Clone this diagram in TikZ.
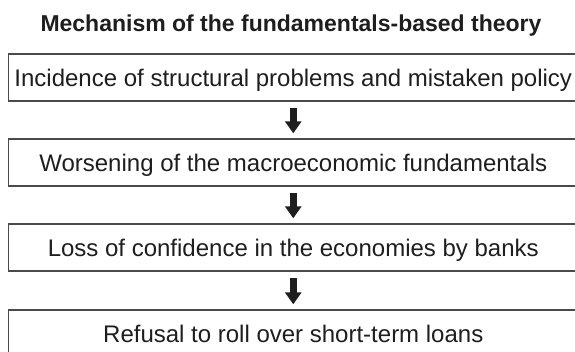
\documentclass[tikz,border=0pt]{standalone}
\usepackage{fontspec}
\setmainfont{Liberation Sans}
\usetikzlibrary{arrows.meta}
\definecolor{boxline}{HTML}{4A4A4A}
\definecolor{txt}{HTML}{1E1E1E}
\tikzset{
  stepbox/.style={draw=boxline, line width=1.4pt, minimum width=569.5pt, minimum height=47pt, inner sep=0pt, text=txt, text height=17.2pt, text depth=0pt, font=\fontsize{24}{28}\selectfont},
  flowarrow/.style={draw=txt, line width=7pt, -{Triangle[length=12pt,width=16pt]}, shorten <=6pt, shorten >=5pt},
  titletext/.style={text=txt, anchor=base, inner sep=0pt, font=\bfseries\fontsize{23}{27}\selectfont}
}
\begin{document}
\begin{tikzpicture}[x=1pt,y=-1pt]
\useasboundingbox (0,0) rectangle (575,351);
\node[titletext] (title) at (291,31) {Mechanism of the fundamentals-based theory};
\node[stepbox] (b1) at (293.25,77.5) {Incidence of structural problems and mistaken policy};
\node[stepbox] (b2) at (293.25,162.5) {Worsening of the macroeconomic fundamentals};
\node[stepbox] (b3) at (293.25,247.5) {Loss of confidence in the economies by banks};
\node[stepbox] (b4) at (293.25,333.5) {Refusal to roll over short-term loans};
\draw[flowarrow] (b1.south) -- (b2.north);
\draw[flowarrow] (b2.south) -- (b3.north);
\draw[flowarrow] (b3.south) -- (b4.north);
\end{tikzpicture}
\end{document}
